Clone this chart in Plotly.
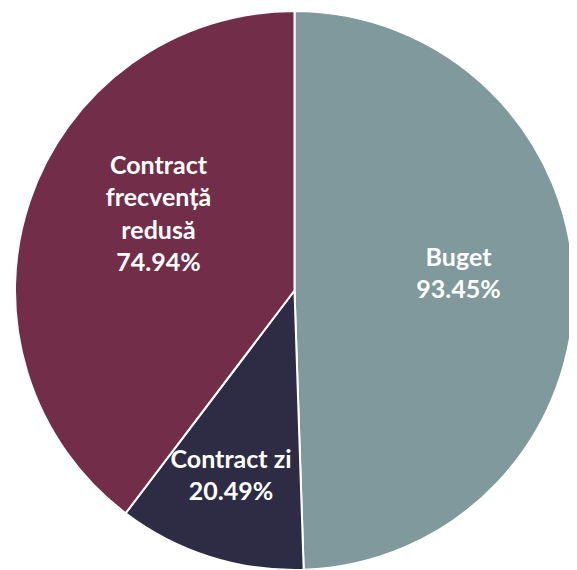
import plotly.graph_objects as go

labels = ["Buget", "Contract zi", "Contract<br>frecvență<br>redusă"]
values = [93.45, 20.49, 74.94]
colors = ["#7f999d", "#2e2c45", "#722e48"]
lead = ["\u00a0" * 8, "", ""]
pad = ["<br> ", "<br> ", "<br> <br> "]

fig = go.Figure(go.Pie(
    labels=labels,
    values=values,
    customdata=list(zip(lead, pad)),
    sort=False,
    direction="clockwise",
    rotation=0,
    marker=dict(colors=colors, line=dict(color="white", width=2)),
    texttemplate="<b>%{customdata[0]}%{label}<br>%{customdata[0]}%{value:.2f}%</b>%{customdata[1]}",
    textposition="inside",
    insidetextorientation="horizontal",
    insidetextfont=dict(family="Lato", size=25, color="white"),
    hoverinfo="label+value",
    domain=dict(x=[0.007, 1.0], y=[0, 1]),
))
fig.update_layout(
    width=569, height=562,
    margin=dict(l=0, r=0, t=3, b=0),
    showlegend=False,
    paper_bgcolor="white",
    uniformtext=dict(minsize=25, mode="show"),
)
fig.write_html("out.html")
